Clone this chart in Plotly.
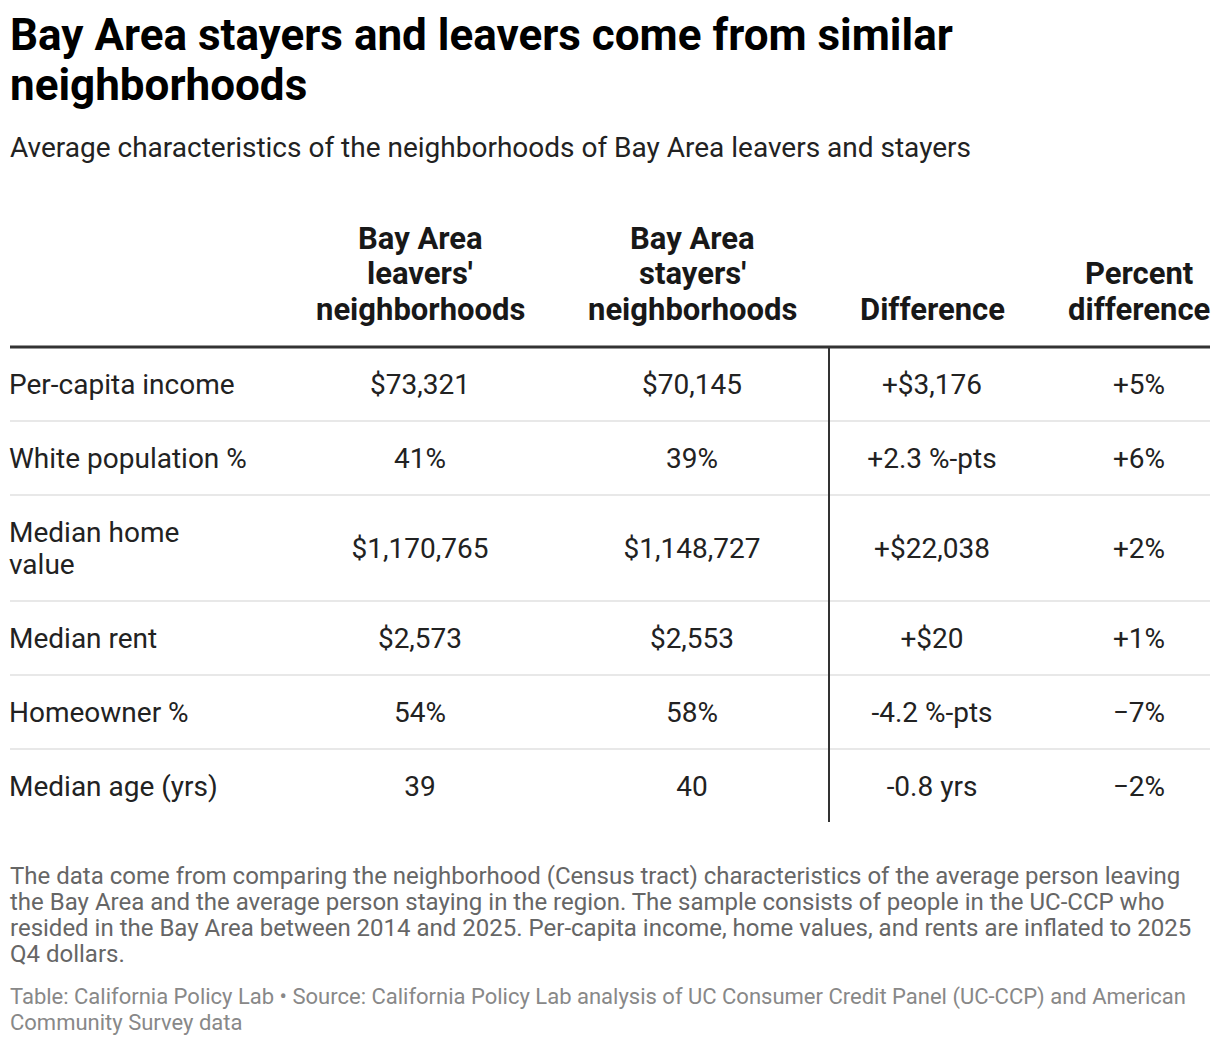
import plotly.graph_objects as go

W, H = 1220, 1046
FONT = "Roboto"

title_lines = ["Bay Area stayers and leavers come from similar", "neighborhoods"]
subtitle = "Average characteristics of the neighborhoods of Bay Area leavers and stayers"
headers = ["", "Bay Area<br>leavers'<br>neighborhoods", "Bay Area<br>stayers'<br>neighborhoods",
           "Difference", "Percent<br>difference"]
labels = ["Per-capita income", "White population %", "Median home<br>value",
          "Median rent", "Homeowner %", "Median age (yrs)"]
leavers = ["$73,321", "41%", "$1,170,765", "$2,573", "54%", "39"]
stayers = ["$70,145", "39%", "$1,148,727", "$2,553", "58%", "40"]
difference = ["+$3,176", "+2.3 %-pts", "+$22,038", "+$20", "-4.2 %-pts", "-0.8 yrs"]
pct_difference = ["+5%", "+6%", "+2%", "+1%", "−7%", "−2%"]
note_lines = [
    "The data come from comparing the neighborhood (Census tract) characteristics of the average person leaving",
    "the Bay Area and the average person staying in the region. The sample consists of people in the UC-CCP who",
    "resided in the Bay Area between 2014 and 2025. Per-capita income, home values, and rents are inflated to 2025",
    "Q4 dollars.",
]
source_lines = [
    "Table: California Policy Lab • Source: California Policy Lab analysis of UC Consumer Credit Panel (UC-CCP) and American",
    "Community Survey data",
]

# layout geometry (pixels)
left, right = 10, 1210
col_x = [9, 420, 692, 932, 1139]
divider_x = 829
table_top = 347
base_h, line_pitch = 74, 32
body_size, head_size = 28, 31
text_dy = 3

row_tops, row_mid = [], []
y = table_top
for lab in labels:
    nlines = lab.count("<br>") + 1
    h = base_h + line_pitch * (nlines - 1)
    row_tops.append(y)
    row_mid.append(y + h / 2)
    y += h
table_bottom = y

fig = go.Figure()
columns = [labels, leavers, stayers, difference, pct_difference]
for i, col in enumerate(columns):
    xs, ys, ts = [], [], []
    for mid, cell in zip(row_mid, col):
        parts = cell.split("<br>")
        n = len(parts)
        for k, p in enumerate(parts):
            xs.append(col_x[i])
            ys.append(mid + text_dy + (k - (n - 1) / 2) * line_pitch)
            ts.append(p)
    fig.add_trace(go.Scatter(
        x=xs, y=ys, text=ts, mode="text",
        textposition="middle right" if i == 0 else "middle center",
        textfont=dict(family=FONT, size=body_size, color="#222222"),
        hoverinfo="skip", showlegend=False, cliponaxis=False))

shapes = []
for t in row_tops[1:]:
    shapes.append(dict(type="line", xref="x", yref="y", x0=left, x1=right, y0=t, y1=t,
                       line=dict(color="#e8e8e8", width=2)))
shapes.append(dict(type="line", xref="x", yref="y", x0=divider_x, x1=divider_x,
                   y0=table_top, y1=table_bottom - 1, line=dict(color="#333333", width=2)))
shapes.append(dict(type="line", xref="x", yref="y", x0=left, x1=right, y0=table_top, y1=table_top,
                   line=dict(color="#333333", width=3)))

annotations = []
for k, t in enumerate(title_lines):
    annotations.append(dict(text="<b>" + t + "</b>", x=left - 1, y=35 + 50 * k, xanchor="left",
                            yanchor="middle", font=dict(family=FONT, size=44, color="#000000")))
annotations.append(dict(text=subtitle, x=left - 1, y=147, xanchor="left", yanchor="middle",
                        font=dict(family=FONT, size=28, color="#222222")))
for k, t in enumerate(note_lines):
    annotations.append(dict(text=t, x=left - 1, y=876 + 26 * k, xanchor="left", yanchor="middle",
                            font=dict(family=FONT, size=24, color="#666666")))
for k, t in enumerate(source_lines):
    annotations.append(dict(text=t, x=left - 1, y=997 + 25 * k, xanchor="left", yanchor="middle",
                            font=dict(family=FONT, size=22, color="#888888")))
for i, h in enumerate(headers):
    if not h:
        continue
    parts = h.split("<br>")
    n = len(parts)
    for k, p in enumerate(parts):
        annotations.append(dict(text="<b>" + p + "</b>", x=col_x[i], y=309 - (n - 1 - k) * 35.5,
                                xanchor="center", yanchor="middle",
                                font=dict(family=FONT, size=head_size, color="#181818")))
for a in annotations:
    a.update(xref="x", yref="y", showarrow=False, borderpad=0)

fig.update_layout(
    width=W, height=H, margin=dict(l=0, r=0, t=0, b=0),
    paper_bgcolor="white", plot_bgcolor="white",
    xaxis=dict(range=[0, W], visible=False, fixedrange=True),
    yaxis=dict(range=[H, 0], visible=False, fixedrange=True),
    shapes=shapes, annotations=annotations,
)
fig.write_html("out.html", config={"displayModeBar": False},
               post_script="document.body.style.margin='0';document.body.style.overflow='hidden';")
